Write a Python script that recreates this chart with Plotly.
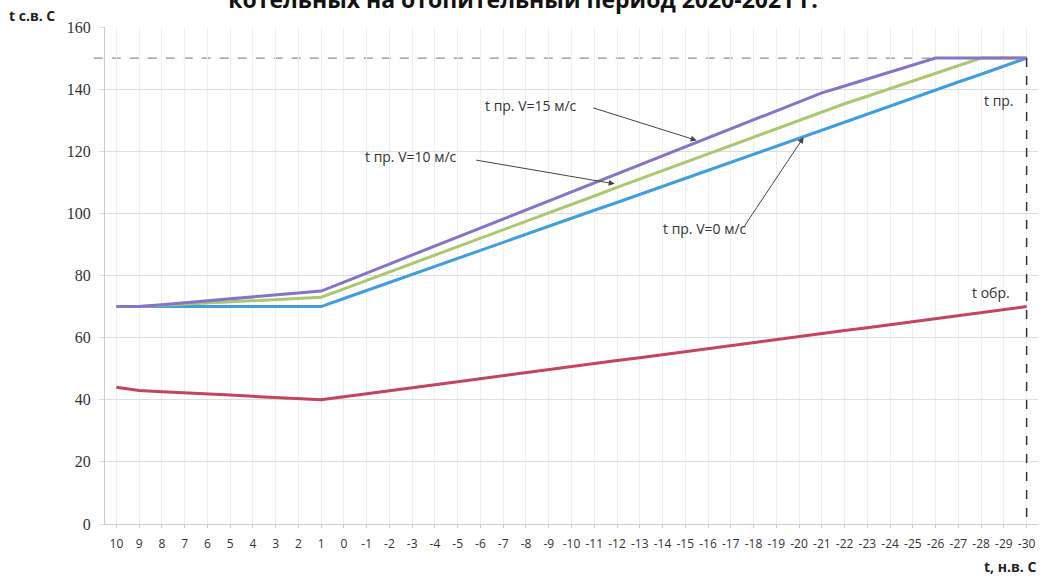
import plotly.graph_objects as go

# outdoor temperature categories
t_outdoor = [str(v) for v in range(10, -31, -1)]

t_supply_v0 = [70, 70, 70, 70, 70, 70, 70, 70, 70, 70,
               72.6, 75.2, 77.7, 80.3, 82.9, 85.5, 88.1, 90.6, 93.2, 95.8,
               98.4, 101.0, 103.5, 106.1, 108.7, 111.3, 113.9, 116.5, 119.0, 121.6,
               124.2, 126.8, 129.4, 131.9, 134.5, 137.1, 139.7, 142.3, 144.8, 147.4, 150.0]

t_supply_v10 = [70, 70, 70.4, 70.8, 71.1, 71.5, 71.9, 72.3, 72.6, 73,
                75.7, 78.4, 81.2, 83.9, 86.6, 89.3, 92.0, 94.8, 97.5, 100.2,
                102.9, 105.6, 108.4, 111.1, 113.8, 116.5, 119.2, 122.0, 124.7, 127.4,
                130.1, 132.8, 135.3, 137.7, 140.2, 142.6, 145.1, 147.5, 150, 150, 150]

t_supply_v15 = [70, 70, 70.6, 71.2, 71.9, 72.5, 73.1, 73.7, 74.4, 75,
                77.9, 80.8, 83.7, 86.6, 89.5, 92.4, 95.3, 98.2, 101.1, 104.0,
                106.9, 109.8, 112.7, 115.6, 118.5, 121.4, 124.3, 127.2, 130.1, 133.0,
                135.9, 138.8, 141.0, 143.3, 145.5, 147.8, 150, 150, 150, 150, 150]

t_return = [44, 43, 42.6, 42.3, 41.9, 41.5, 41.1, 40.8, 40.4, 40,
            41.0, 41.9, 42.9, 43.9, 44.8, 45.8, 46.8, 47.7, 48.7, 49.7,
            50.6, 51.6, 52.6, 53.5, 54.5, 55.5, 56.5, 57.4, 58.4, 59.4,
            60.3, 61.3, 62.3, 63.2, 64.2, 65.2, 66.1, 67.1, 68.1, 69.0, 70.0]

y_ticks = [0, 20, 40, 60, 80, 100, 120, 140, 160]
design_supply = 150

fig = go.Figure()
for ys, col, name in [(t_return, "#c4435e", "t обр."),
                      (t_supply_v0, "#3f9de0", "t пр. V=0 м/с"),
                      (t_supply_v10, "#a9c96e", "t пр. V=10 м/с"),
                      (t_supply_v15, "#8574c9", "t пр. V=15 м/с")]:
    fig.add_trace(go.Scatter(x=t_outdoor, y=ys, mode="lines", name=name,
                             line=dict(color=col, width=3), hoverinfo="skip"))

n = len(t_outdoor)
last_idx = n - 1
fig.add_shape(type="line", xref="paper", yref="y",
              x0=-0.012, x1=(last_idx + 0.5) / n, y0=design_supply, y1=design_supply,
              line=dict(color="#909090", width=1.2, dash="dash"), layer="below")
fig.add_shape(type="line", xref="x", yref="y",
              x0=last_idx, x1=last_idx, y0=design_supply, y1=-2,
              line=dict(color="#333333", width=1.5, dash="dash"))

txt_font = dict(family="Open Sans, Arial, sans-serif", size=14, color="#333333")
ann = [
    dict(x=25.5, y=123.5, ax=-105, ay=-33),
    dict(x=21.9, y=109.5, ax=-140, ay=-24),
    dict(x=30.2, y=124.5, ax=-60, ay=90),
]
for a in ann:
    fig.add_annotation(x=a["x"], y=a["y"], xref="x", yref="y", ax=a["ax"], ay=a["ay"],
                       text="", showarrow=True, arrowhead=2, arrowsize=1.2,
                       arrowwidth=1, arrowcolor="#444444")

label_pos = [("t пр. V=15 м/с", 531, 105), ("t пр. V=10 м/с", 411, 157),
             ("t пр. V=0 м/с", 705, 228), ("t пр.", 999, 101), ("t обр.", 991, 292)]
W, H = 1046, 579
L, R, T, B = 105, 8, 27, 55
for text, px, py in label_pos:
    fig.add_annotation(x=(px - L) / (W - L - R), y=1 - (py - T) / (H - T - B),
                       xref="paper", yref="paper", text=text, showarrow=False,
                       font=txt_font, xanchor="center", yanchor="middle")

fig.add_annotation(x=-0.105, y=1.0, xref="paper", yref="paper", text="<b>t с.в. С</b>",
                   showarrow=False, xanchor="left", yanchor="bottom",
                   font=dict(family="Open Sans, Arial, sans-serif", size=14, color="#222222"))
fig.add_annotation(x=1.0, y=-0.062, xref="paper", yref="paper", text="<b>t, н.в. С</b>",
                   showarrow=False, xanchor="right", yanchor="top",
                   font=dict(family="Open Sans, Arial, sans-serif", size=14, color="#222222"))

fig.update_layout(
    width=W, height=H,
    margin=dict(l=L, r=R, t=T, b=B),
    paper_bgcolor="white", plot_bgcolor="white",
    showlegend=False,
    title=dict(text="<b>котельных на отопительный период 2020-2021 г.</b>",
               x=0.5, xanchor="center", y=1.0, yanchor="middle",
               font=dict(family="Open Sans, Arial, sans-serif", size=23, color="#111111")),
    xaxis=dict(type="category", range=[-0.5, n - 0.5], showgrid=True,
               gridcolor="#efefef", gridwidth=1, showline=True, linecolor="#cccccc",
               ticks="outside", ticklen=3, tickcolor="#cccccc", ticklabelstandoff=6,
               tickfont=dict(family="Open Sans, Arial, sans-serif", size=12, color="#333333"),
               tickangle=0, zeroline=False),
    yaxis=dict(range=[0, 160], tickvals=y_ticks, showgrid=True, gridcolor="#dddddd",
               showline=True, linecolor="#cccccc", ticks="outside", ticklen=5,
               tickcolor="#dddddd", zeroline=False, ticklabelstandoff=5,
               tickfont=dict(family="Liberation Serif, Times New Roman, serif", size=16,
                             color="#333333")),
)

fig.write_html("out.html", post_script="document.body.style.margin='0';",
               config={"displayModeBar": False})
